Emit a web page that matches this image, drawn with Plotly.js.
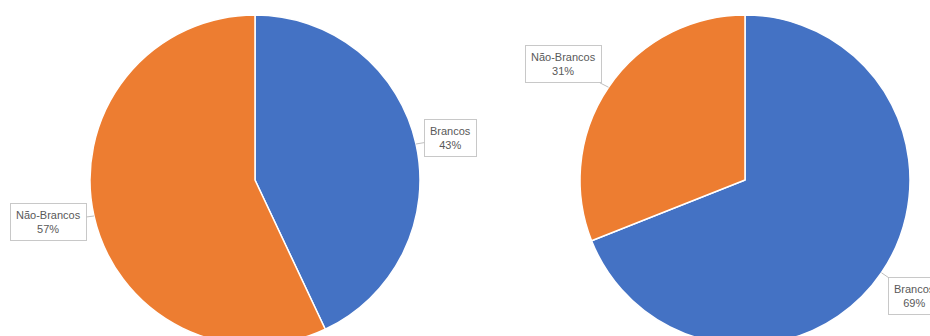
<!DOCTYPE html>
<html>
<head>
<meta charset="utf-8">
<script src="https://cdn.plot.ly/plotly-3.0.1.min.js"></script>
<style>
html,body{margin:0;padding:0;overflow:hidden;background:#fff;}
#chart{width:930px;height:360px;}
</style>
</head>
<body>
<div id="chart"></div>
<script>
const categories = ["Brancos", "Não-Brancos"];
const leftValues = [43, 57];
const rightValues = [69, 31];
const colors = ["#4472C4", "#ED7D31"];

const W = 930, H = 360;
// pie placement in pixels (center x, center y, radius)
const pies = [
  {values: leftValues, cx: 255, cy: 180, r: 165},
  {values: rightValues, cx: 745, cy: 180, r: 165}
];

const traces = pies.map(p => ({
  type: "pie",
  labels: categories,
  values: p.values,
  sort: false,
  direction: "clockwise",
  rotation: 0,
  textinfo: "none",
  hoverinfo: "label+percent",
  marker: {colors: colors, line: {color: "#ffffff", width: 1.5}},
  domain: {
    x: [(p.cx - p.r) / W, (p.cx + p.r) / W],
    y: [1 - (p.cy + p.r) / H, 1 - (p.cy - p.r) / H]
  },
  showlegend: false
}));

const annotations = [];
pies.forEach(p => {
  const total = p.values.reduce((a, b) => a + b, 0);
  let cum = 0;
  p.values.forEach((v, i) => {
    const mid = (cum + v / 2) / total * 2 * Math.PI;
    cum += v;
    const dx = Math.sin(mid), dy = -Math.cos(mid);
    const ex = p.cx + p.r * dx, ey = p.cy + p.r * dy;
    const pct = Math.round(v / total * 100);
    const label = categories[i];
    const w = label.length * 5.6 + 16, h = 38;
    let ax = dx * 7, ay = dy * 7;
    if (Math.abs(dx) > 0.3) ax += Math.sign(dx) * w / 2;
    if (Math.abs(dy) > 0.4) ay += Math.sign(dy) * h / 2;
    else ay += dy * 20;
    annotations.push({
      xref: "paper", yref: "paper",
      x: ex / W, y: 1 - ey / H,
      ax: ax, ay: ay,
      showarrow: true, arrowhead: 0, arrowwidth: 1, arrowcolor: "#BFBFBF",
      text: label + "<br>" + pct + "%",
      font: {family: "Liberation Sans, Arial, sans-serif", size: 11, color: "#595959"},
      bgcolor: "#ffffff", bordercolor: "#C8C8C8", borderwidth: 1, borderpad: 5,
      align: "center"
    });
  });
});

const layout = {
  width: W, height: H,
  margin: {l: 0, r: 0, t: 0, b: 0},
  paper_bgcolor: "#ffffff",
  annotations: annotations
};

Plotly.newPlot("chart", traces, layout, {staticPlot: true, displayModeBar: false});
</script>
</body>
</html>
